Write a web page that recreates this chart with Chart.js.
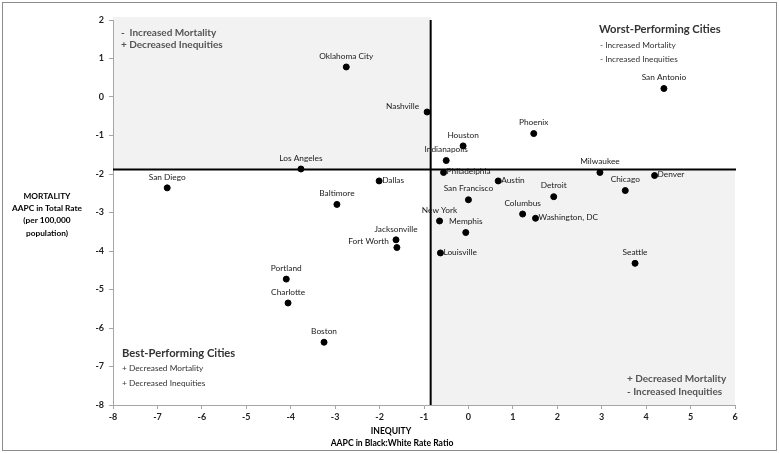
<!DOCTYPE html>
<html>
<head>
    <title>Mortality vs Inequity by City</title>
    <script src="https://cdn.jsdelivr.net/npm/chart.js"></script>
    <style>
        body { margin: 0; background: #fff; }
        canvas { display: block; }
    </style>
</head>
<body>
    <canvas id="cityChart" width="779" height="453"></canvas>
    <script>
        // values
        const cities = ['Oklahoma City', 'Los Angeles', 'San Diego', 'Dallas', 'Baltimore', 'Nashville',
            'Houston', 'Indianapolis', 'Phoenix', 'San Antonio', 'Milwaukee', 'Denver', 'Chicago',
            'Philadelphia', 'Austin', 'Detroit', 'San Francisco', 'Columbus', 'Washington, DC',
            'New York', 'Memphis', 'Jacksonville', 'Fort Worth', 'Louisville', 'Seattle',
            'Portland', 'Charlotte', 'Boston'];
        const inequity = [-2.75, -3.77, -6.78, -2.01, -2.96, -0.93,
            -0.12, -0.50, 1.47, 4.40, 2.96, 4.19, 3.53,
            -0.56, 0.67, 1.92, 0.00, 1.22, 1.51,
            -0.65, -0.06, -1.63, -1.61, -0.63, 3.75,
            -4.10, -4.06, -3.25];
        const mortality = [0.78, -1.87, -2.36, -2.18, -2.79, -0.39,
            -1.27, -1.65, -0.95, 0.22, -1.96, -2.04, -2.43,
            -1.96, -2.18, -2.59, -2.67, -3.04, -3.15,
            -3.22, -3.52, -3.71, -3.91, -4.05, -4.32,
            -4.73, -5.35, -6.37];
        const xTicks = [-8, -7, -6, -5, -4, -3, -2, -1, 0, 1, 2, 3, 4, 5, 6];
        const yTicks = [-8, -7, -6, -5, -4, -3, -2, -1, 0, 1, 2];
        const medianInequity = -0.85;
        const medianMortality = -1.88;

        // which side of the dot each city name sits on
        const labelSide = ['top', 'top', 'top', 'right', 'top', 'left',
            'top', 'top', 'top', 'top', 'top', 'right', 'top',
            'right', 'right', 'top', 'top', 'top', 'right',
            'top', 'top', 'top', 'left', 'right', 'top',
            'top', 'top', 'top'];

        const FONT = 'Lato, "Open Sans", sans-serif';
        const points = cities.map((c, i) => ({ x: inequity[i], y: mortality[i] }));

        const quadrantPlugin = {
            id: 'quadrants',
            beforeDraw(chart) {
                const { ctx, chartArea: a, scales: { x, y } } = chart;
                const mx = x.getPixelForValue(medianInequity);
                const my = y.getPixelForValue(medianMortality);
                ctx.save();
                ctx.fillStyle = '#f2f2f2';
                ctx.fillRect(a.left, a.top - 3, mx - a.left, my - a.top + 3);
                ctx.fillRect(mx, my, a.right - mx, a.bottom - my);
                ctx.restore();
            },
            beforeDatasetsDraw(chart) {
                const { ctx, chartArea: a, scales: { x, y } } = chart;
                const mx = x.getPixelForValue(medianInequity);
                const my = y.getPixelForValue(medianMortality);
                ctx.save();
                ctx.strokeStyle = '#000';
                ctx.lineWidth = 2;
                ctx.beginPath();
                ctx.moveTo(mx, a.top);
                ctx.lineTo(mx, a.bottom);
                ctx.moveTo(a.left, my);
                ctx.lineTo(a.right + 1, my);
                ctx.stroke();
                ctx.restore();
            },
            afterDraw(chart) {
                const { ctx, scales: { x, y } } = chart;
                ctx.save();

                // city names
                ctx.font = '8.3px ' + FONT;
                ctx.fillStyle = '#1a1a1a';
                ctx.textBaseline = 'middle';
                cities.forEach((name, i) => {
                    const px = x.getPixelForValue(inequity[i]);
                    const py = y.getPixelForValue(mortality[i]);
                    const side = labelSide[i];
                    if (side === 'top') {
                        ctx.textAlign = 'center';
                        ctx.fillText(name, px, py - 11);
                    } else if (side === 'right') {
                        ctx.textAlign = 'left';
                        ctx.fillText(name, px + 3, py - 1);
                    } else {
                        ctx.textAlign = 'right';
                        ctx.fillText(name, px - 8, py - 6);
                    }
                });

                // axis titles
                ctx.fillStyle = '#000';
                ctx.textAlign = 'center';
                ctx.font = 'bold 8.3px ' + FONT;
                ['MORTALITY', 'AAPC in Total Rate', '(per 100,000', 'population)']
                    .forEach((t, i) => ctx.fillText(t, 47, 196 + i * 12.3));
                ctx.font = 'bold 8.6px ' + FONT;
                ctx.fillText('INEQUITY', 391, 431);
                ctx.fillText('AAPC in Black:White Rate Ratio', 392, 443);

                // quadrant notes
                ctx.textAlign = 'left';
                ctx.fillStyle = '#555';
                ctx.font = 'bold 10px ' + FONT;
                ctx.fillText('-  Increased Mortality', 121, 33);
                ctx.fillText('+ Decreased Inequities', 121, 45);
                ctx.fillText('+ Decreased Mortality', 627, 379);
                ctx.fillText('- Increased Inequities', 627, 392);

                ctx.fillStyle = '#333';
                ctx.font = 'bold 11.2px ' + FONT;
                ctx.fillText('Worst-Performing Cities', 599, 29);
                ctx.fillText('Best-Performing Cities', 122, 353);
                ctx.font = '8.3px ' + FONT;
                ctx.fillText('- Increased Mortality', 600, 45);
                ctx.fillText('- Increased Inequities', 600, 59);
                ctx.fillText('+ Decreased Mortality', 122, 368);
                ctx.fillText('+ Decreased Inequities', 122, 383);

                // chart border
                ctx.strokeStyle = '#8c8c8c';
                ctx.lineWidth = 1;
                ctx.strokeRect(2.5, 2.5, 774, 448);
                ctx.restore();
            }
        };

        const ctx = document.getElementById('cityChart').getContext('2d');
        const cityChart = new Chart(ctx, {
            type: 'scatter',
            data: {
                datasets: [{
                    label: 'Cities',
                    data: points,
                    backgroundColor: '#000',
                    borderColor: '#000',
                    pointRadius: 3
                }]
            },
            options: {
                responsive: false,
                animation: false,
                layout: { padding: { top: 20, right: 44, left: 0, bottom: 0 } },
                plugins: {
                    legend: { display: false },
                    tooltip: { enabled: false }
                },
                scales: {
                    x: {
                        min: xTicks[0],
                        max: xTicks[xTicks.length - 1],
                        ticks: { stepSize: 1, color: '#222', padding: 3, font: { family: FONT, size: 9, weight: 'bold' } },
                        grid: { drawOnChartArea: false, tickLength: 4, color: '#a6a6a6' },
                        border: { color: '#a6a6a6' },
                        afterFit: s => { s.height = 48; }
                    },
                    y: {
                        min: yTicks[0],
                        max: yTicks[yTicks.length - 1],
                        ticks: { stepSize: 1, color: '#222', padding: 5, font: { family: FONT, size: 9, weight: 'bold' } },
                        grid: { drawOnChartArea: false, tickLength: 4, color: '#a6a6a6' },
                        border: { color: '#a6a6a6' },
                        afterFit: s => { s.width = 113; }
                    }
                }
            },
            plugins: [quadrantPlugin]
        });
    </script>
</body>
</html>
